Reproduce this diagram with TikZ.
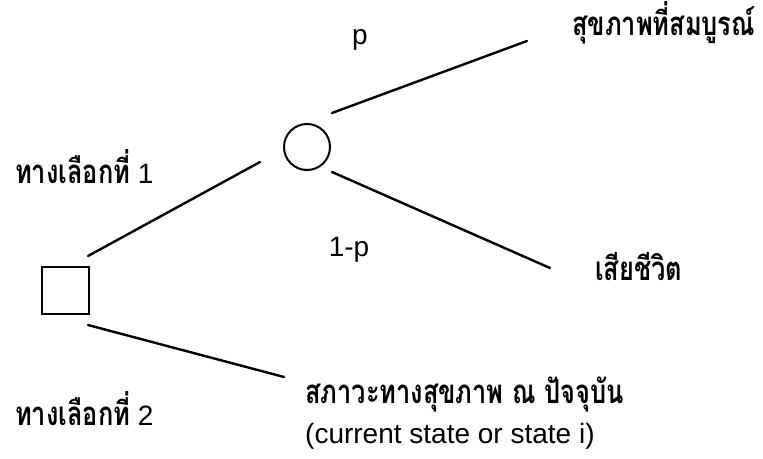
\documentclass[tikz,border=0pt]{standalone}
\usepackage{fontspec}
\setmainfont{Liberation Sans}
\newfontfamily\thaifont[Script=Thai]{Loma}
\newcommand{\thtxt}[1]{\scalebox{0.77}[1]{\fontsize{33}{38}\selectfont\thaifont\bfseries #1}}
\usetikzlibrary{positioning}

\begin{document}
\begin{tikzpicture}[
    x=1pt, y=-1pt,
    every node/.style={inner sep=0pt, font=\fontsize{28}{34}\selectfont},
    choice/.style={rectangle, draw, line width=2pt, minimum size=47pt},
    chance/.style={circle, draw, line width=2pt, minimum size=46pt},
    label/.style={anchor=base west},
    prob/.style={anchor=base},
    branch/.style={line width=2.4pt, line cap=round}
  ]
  \useasboundingbox (0,0) rectangle (763,458);
  \node[choice] (sq) at (65.5,290.5) {};
  \node[chance] (ch) at (307,147) {};
  \node[label] (opt1) at (15,183) {\thtxt{ทางเลือกที่} 1};
  \node[label] (opt2) at (15,425) {\thtxt{ทางเลือกที่} 2};
  \node[prob] (p) at (360,44) {p};
  \node[prob] (q) at (349,256) {1-p};
  \node[label] (good) at (572,35) {\thtxt{สุขภาพที่สมบูรณ์}};
  \node[label] (dead) at (595,280) {\thtxt{เสียชีวิต}};
  \node[label] (cur) at (305,403) {\thtxt{สภาวะทางสุขภาพ ณ ปัจจุบัน}};
  \node[label] (curen) at (305,443) {(current state or state i)};
  \coordinate (goodend) at (527,41);
  \coordinate (deadend) at (550,268);
  \coordinate (curend) at (284,377);
  \draw[branch] ([shift={(-2,-10)}]sq.north east) -- ([shift={(-23,15)}]ch.west);
  \draw[branch] ([shift={(25,-34)}]ch.center) -- (goodend);
  \draw[branch] ([shift={(25,25)}]ch.center) -- (deadend);
  \draw[branch] ([shift={(-2,10)}]sq.south east) -- (curend);
\end{tikzpicture}
\end{document}
